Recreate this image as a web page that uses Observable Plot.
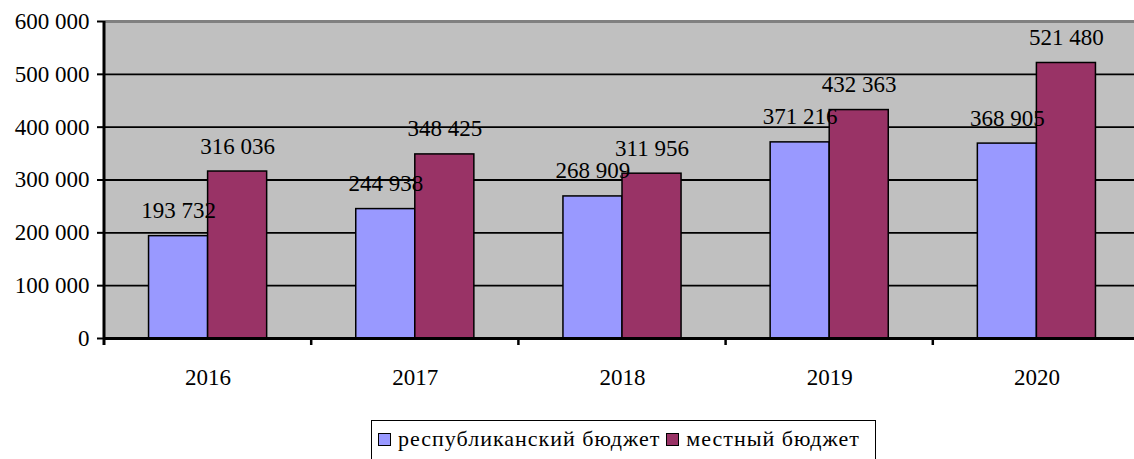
<!DOCTYPE html>
<html>
<head>
<meta charset="utf-8">
<script src="https://cdn.jsdelivr.net/npm/d3@7"></script>
<script src="https://cdn.jsdelivr.net/npm/@observablehq/plot@0.6"></script>
<style>
  html, body { margin: 0; padding: 0; background: #fff; overflow: hidden; }
  #chart svg { display: block; }
  #chart svg text { font-family: "Liberation Serif", "Times New Roman", serif; }
  .legend {
    position: absolute; left: 371px; top: 420px; width: 505px; height: 42px;
    border: 1px solid #000; box-sizing: border-box;
    font-family: "Liberation Serif", "Times New Roman", serif; font-size: 22px; letter-spacing: 1px; color: #000;
    display: flex; align-items: center; padding-left: 6px; padding-bottom: 4px; white-space: nowrap;
  }
  .legend .sw { width: 11px; height: 11px; border: 1px solid #000; display: inline-block; margin-right: 7px; }
  .legend .item { display: flex; align-items: center; margin-right: 6px; }
</style>
</head>
<body>
<div id="chart"></div>
<script>
const years = ["2016", "2017", "2018", "2019", "2020"];
const republican = [193732, 244938, 268909, 371216, 368905];
const local = [316036, 348425, 311956, 432363, 521480];
const seriesNames = ["республиканский бюджет", "местный бюджет"];
const seriesColors = ["#9999FF", "#993366"];
const yTicks = [0, 100000, 200000, 300000, 400000, 500000, 600000];

const data = years.map((y, i) => ({year: y, rep: republican[i], loc: local[i]}));

const fmt = d3.formatLocale({decimal: ",", thousands: " ", grouping: [3], currency: ["", ""]}).format(",d");
const font = "Liberation Serif, Times New Roman, serif";

const W = 1134, H = 410, ML = 104, MR = -6, MT = 21, MB = 72;
const PAD = 0.43;
const step = (W - ML - MR) / years.length;
const bw = (1 - PAD) * step;

const boundaryTicks = (index, scales, values, dims) => {
  const x = scales.x, y = scales.y;
  const g = d3.create("svg:g");
  const s = x(years[1]) - x(years[0]);
  for (let i = 1; i < years.length; i++) {
    const bx = x(years[i]) - PAD / 2 * s;
    g.append("line").attr("x1", bx).attr("x2", bx)
      .attr("y1", y(0)).attr("y2", y(0) + 7)
      .attr("stroke", "#000").attr("stroke-width", 2.5);
  }
  g.append("line").attr("x1", dims.marginLeft).attr("x2", dims.marginLeft)
    .attr("y1", y(600000)).attr("y2", y(0) + 7)
    .attr("stroke", "#000").attr("stroke-width", 3);
  return g.node();
};

const chart = Plot.plot({
  width: W, height: H,
  marginLeft: ML, marginRight: MR, marginTop: MT, marginBottom: MB,
  style: {fontFamily: font, fontSize: "23px", color: "#000", background: "#fff", overflow: "hidden"},
  x: {domain: years, paddingInner: PAD, paddingOuter: PAD / 2, round: false, label: null},
  y: {domain: [0, 600000], label: null},
  marks: [
    Plot.frame({fill: "#C0C0C0", stroke: null}),
    Plot.ruleY(yTicks.filter(d => d > 0 && d < 600000), {stroke: "#000", strokeWidth: 1.8}),
    Plot.ruleY([600000], {stroke: "#808080", strokeWidth: 3}),
    Plot.barY(data, {x: "year", y: "rep", fill: seriesColors[0], stroke: "#000", strokeWidth: 1.5, insetLeft: 0, insetRight: bw / 2}),
    Plot.barY(data, {x: "year", y: "loc", fill: seriesColors[1], stroke: "#000", strokeWidth: 1.5, insetLeft: bw / 2, insetRight: 0}),
    Plot.ruleY([0], {stroke: "#000", strokeWidth: 3}),
    Plot.text(data, {x: "year", y: "rep", text: d => fmt(d.rep), dx: -bw / 4, dy: -18, lineAnchor: "bottom", fontSize: 23, fill: "#000"}),
    Plot.text(data, {x: "year", y: "loc", text: d => fmt(d.loc), dx: bw / 4, dy: -18, lineAnchor: "bottom", fontSize: 23, fill: "#000"}),
    Plot.axisY({ticks: yTicks, tickFormat: fmt, tickSize: 7, tickPadding: 8, strokeWidth: 2, fontSize: 23}),
    Plot.axisX({tickSize: 0, tickPadding: 30, fontSize: 23}),
    boundaryTicks
  ]
});
document.getElementById("chart").appendChild(chart);

const legend = document.createElement("div");
legend.className = "legend";
seriesNames.forEach((name, i) => {
  const item = document.createElement("span");
  item.className = "item";
  const sw = document.createElement("span");
  sw.className = "sw";
  sw.style.background = seriesColors[i];
  item.appendChild(sw);
  item.appendChild(document.createTextNode(name));
  legend.appendChild(item);
});
document.body.appendChild(legend);
</script>
</body>
</html>
